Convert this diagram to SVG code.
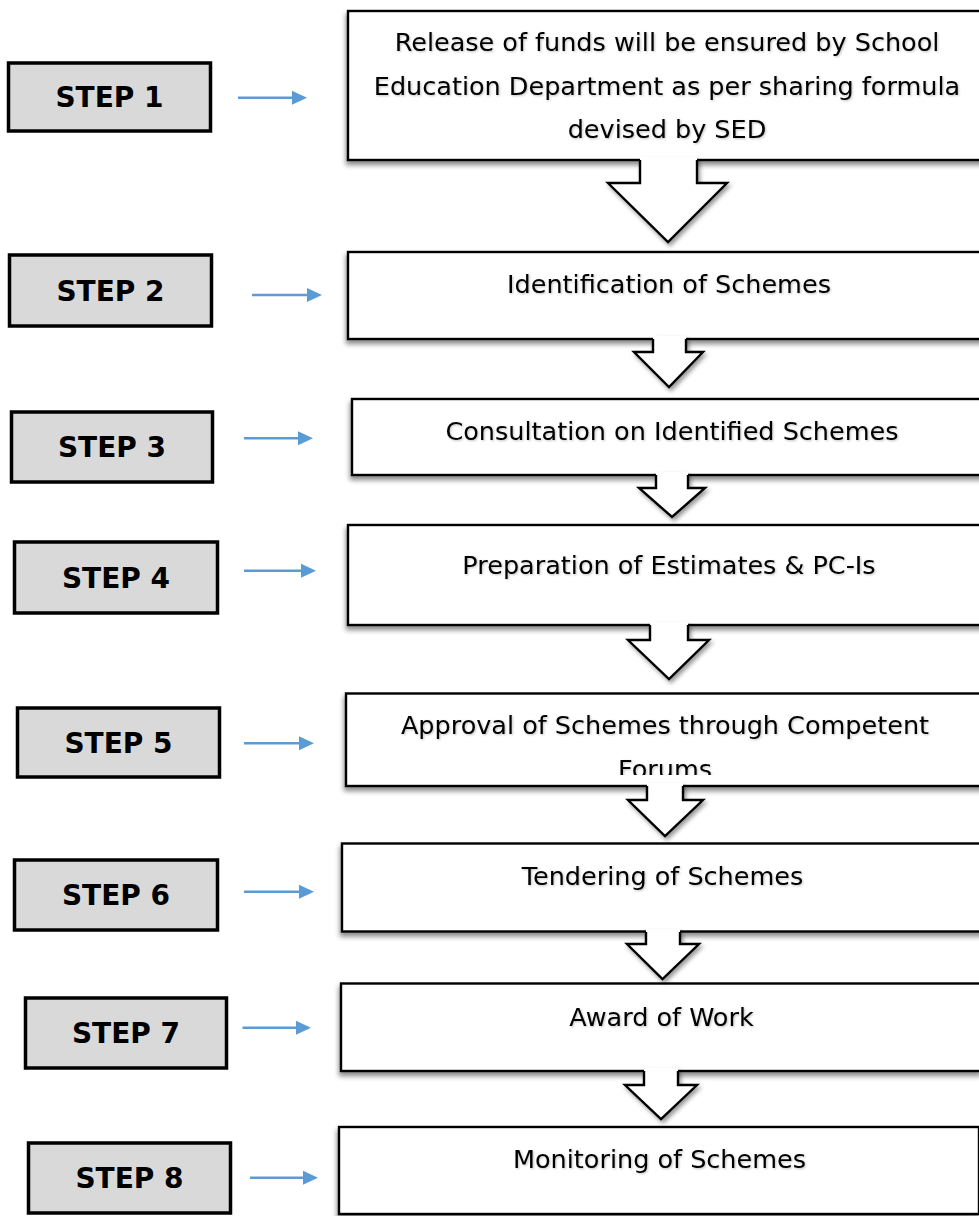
<svg xmlns="http://www.w3.org/2000/svg" width="979" height="1216" viewBox="0 0 979 1216">
<defs>
<style>
.step rect{fill:#d9d9d9;stroke:#000;stroke-width:3.5}
.step text{font-family:"DejaVu Sans",sans-serif;font-weight:bold;font-size:28px;fill:#000;text-anchor:middle}
.box rect{fill:#fff;stroke:#000;stroke-width:2.4}
.box text{font-family:"DejaVu Sans",sans-serif;font-size:25.5px;fill:#000;text-anchor:middle}
.ptr line{stroke:#5b9bd5;stroke-width:2.5}
.ptr polygon{fill:#5b9bd5}
.blk .f{fill:#fff;stroke:none}
.blk .s{fill:none;stroke:#000;stroke-width:2.4;stroke-linejoin:miter}
</style>
<filter id="sh" x="-10%" y="-20%" width="120%" height="150%">
<feDropShadow dx="-1" dy="4" stdDeviation="2.5" flood-color="#000" flood-opacity="0.45"/>
</filter>
<filter id="ash" x="-30%" y="-20%" width="160%" height="150%">
<feDropShadow dx="2" dy="3" stdDeviation="2" flood-color="#000" flood-opacity="0.4"/>
</filter>
<filter id="tsh" x="-5%" y="-20%" width="110%" height="150%">
<feDropShadow dx="1" dy="1" stdDeviation="0.8" flood-color="#000" flood-opacity="0.25"/>
</filter>
<clipPath id="clip5"><rect x="346" y="693" width="640" height="82"/></clipPath>
</defs>
<rect width="979" height="1216" fill="#fff"/>

<g id="step1" class="step"><rect x="8.5" y="63" width="202" height="68"/><text x="109.5" y="107">STEP 1</text></g>
<g id="step2" class="step"><rect x="9.5" y="255" width="202" height="71"/><text x="110.5" y="300.5">STEP 2</text></g>
<g id="step3" class="step"><rect x="11.5" y="412" width="201" height="70"/><text x="112" y="457">STEP 3</text></g>
<g id="step4" class="step"><rect x="14.5" y="542" width="203" height="71"/><text x="116" y="587.5">STEP 4</text></g>
<g id="step5" class="step"><rect x="17.5" y="708" width="202" height="69"/><text x="118.5" y="752.5">STEP 5</text></g>
<g id="step6" class="step"><rect x="14.5" y="860" width="203" height="70"/><text x="116" y="905">STEP 6</text></g>
<g id="step7" class="step"><rect x="25.5" y="998" width="201" height="70"/><text x="126" y="1043">STEP 7</text></g>
<g id="step8" class="step"><rect x="28.5" y="1143" width="202" height="70"/><text x="129.5" y="1188">STEP 8</text></g>

<g id="box1" class="box"><rect x="348" y="11" width="640" height="149" filter="url(#sh)"/>
<g filter="url(#tsh)"><text x="667" y="51">Release of funds will be ensured by School</text><text x="667" y="94.5">Education Department as per sharing formula</text><text x="667" y="138">devised by SED</text></g></g>
<g id="box2" class="box"><rect x="348" y="252" width="640" height="87" filter="url(#sh)"/><text x="669" y="293" filter="url(#tsh)">Identification of Schemes</text></g>
<g id="box3" class="box"><rect x="352" y="399" width="640" height="76" filter="url(#sh)"/><text x="672" y="440" filter="url(#tsh)">Consultation on Identified Schemes</text></g>
<g id="box4" class="box"><rect x="348" y="525" width="640" height="100" filter="url(#sh)"/><text x="669" y="574" filter="url(#tsh)">Preparation of Estimates &amp; PC-Is</text></g>
<g id="box5" class="box"><rect x="346" y="693.5" width="640" height="92.5" filter="url(#sh)"/>
<g clip-path="url(#clip5)" filter="url(#tsh)"><text x="665" y="734">Approval of Schemes through Competent</text><text x="665" y="778">Forums</text></g></g>
<g id="box6" class="box"><rect x="342" y="843.5" width="640" height="88" filter="url(#sh)"/><text x="662.5" y="885" filter="url(#tsh)">Tendering of Schemes</text></g>
<g id="box7" class="box"><rect x="341" y="983.5" width="640" height="87.5" filter="url(#sh)"/><text x="661.5" y="1025.5" filter="url(#tsh)">Award of Work</text></g>
<g id="box8" class="box"><rect x="339" y="1127" width="640" height="87" filter="url(#sh)"/><text x="659.5" y="1168" filter="url(#tsh)">Monitoring of Schemes</text></g>

<g id="connectors">
<g class="ptr">
<line x1="238" y1="97.7" x2="294" y2="97.7"/><polygon points="292,90.7 307,97.7 292,104.7"/>
<line x1="252" y1="295" x2="309" y2="295"/><polygon points="307,288 322,295 307,302"/>
<line x1="244" y1="438.3" x2="300" y2="438.3"/><polygon points="298,431.3 313,438.3 298,445.3"/>
<line x1="244" y1="570.7" x2="303" y2="570.7"/><polygon points="301,563.7 316,570.7 301,577.7"/>
<line x1="244" y1="743.3" x2="301" y2="743.3"/><polygon points="299,736.3 314,743.3 299,750.3"/>
<line x1="244" y1="891.7" x2="301" y2="891.7"/><polygon points="299,884.7 314,891.7 299,898.7"/>
<line x1="242.5" y1="1027.7" x2="298" y2="1027.7"/><polygon points="296,1020.7 311,1027.7 296,1034.7"/>
<line x1="250" y1="1177.7" x2="305" y2="1177.7"/><polygon points="303,1170.7 318,1177.7 303,1184.7"/>
</g>
<g class="blk">
<g filter="url(#ash)"><polygon class="f" points="640,157 640,183 608,183 668,242 727,183 697,183 697,157"/><path class="s" d="M640,160 V183 H608 L668,242 L727,183 H697 V160"/></g>
<g filter="url(#ash)"><polygon class="f" points="653,336 653,352 634,352 669,387 703,352 686,352 686,336"/><path class="s" d="M653,339 V352 H634 L669,387 L703,352 H686 V339"/></g>
<g filter="url(#ash)"><polygon class="f" points="656,472 656,488 639,488 672,517 705,488 688,488 688,472"/><path class="s" d="M656,475 V488 H639 L672,517 L705,488 H688 V475"/></g>
<g filter="url(#ash)"><polygon class="f" points="650,622 650,640 628,640 669,679 709,640 688,640 688,622"/><path class="s" d="M650,625 V640 H628 L669,679 L709,640 H688 V625"/></g>
<g filter="url(#ash)"><polygon class="f" points="647,783 647,800 628,800 665,836 703,800 683,800 683,783"/><path class="s" d="M647,786 V800 H628 L665,836 L703,800 H683 V786"/></g>
<g filter="url(#ash)"><polygon class="f" points="646,929 646,944 627,944 662.5,979 699,944 680,944 680,929"/><path class="s" d="M646,932 V944 H627 L662.5,979 L699,944 H680 V932"/></g>
<g filter="url(#ash)"><polygon class="f" points="644,1068 644,1085 625,1085 661,1119 697,1085 678,1085 678,1068"/><path class="s" d="M644,1071 V1085 H625 L661,1119 L697,1085 H678 V1071"/></g>
</g>
</g>
</svg>
